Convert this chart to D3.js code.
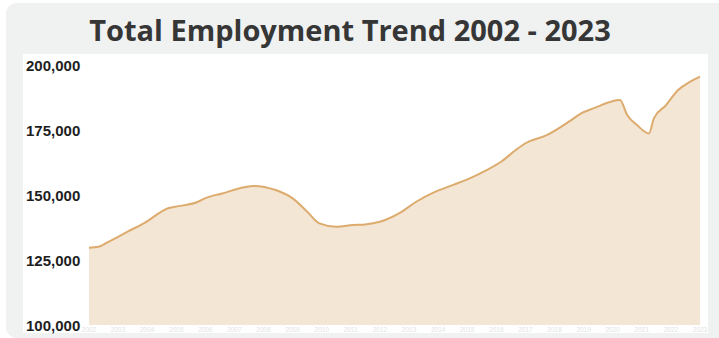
<!DOCTYPE html>
<html>
<head>
<meta charset="utf-8">
<script src="https://cdn.jsdelivr.net/npm/d3@7"></script>
<style>
  html, body { margin: 0; padding: 0; background: #fff; }
  svg { display: block; }
</style>
</head>
<body>
<svg id="chart" width="719" height="338"></svg>
<script>
// Total employment, read at irregular month points
const months = [
  "2002-01","2002-05","2002-09","2003-05","2003-12","2004-10","2004-12","2005-10",
  "2006-01","2006-08","2007-05","2007-09","2008-06","2009-01","2009-07","2009-12",
  "2010-07","2011-02","2011-07","2012-01","2012-09","2013-04","2013-11","2014-07",
  "2015-02","2015-09","2016-03","2016-09","2017-01","2017-10","2018-07","2018-12",
  "2019-05","2020-04","2020-07","2020-11","2021-04","2021-06","2021-11","2022-04",
  "2022-09","2023-01"
];
const employment = [
  129700,130100,132000,135900,139300,145000,145400,147400,
  148800,150600,153000,153500,151900,148700,143600,139100,
  137800,138500,138700,139700,143000,147400,150900,153800,
  156400,159600,162800,167300,169900,173100,178200,181400,
  183300,186500,180800,176900,173700,179500,184600,190400,
  193600,195500
];
const yTicks = [100000, 125000, 150000, 175000, 200000];
const yearLabels = d3.range(2002, 2024);
const title = "Total Employment Trend 2002 - 2023";

const parseMonth = d3.timeParse("%Y-%m");
const data = months.map((m, i) => ({ date: parseMonth(m), value: employment[i] }));

const svg = d3.select("#chart");

// Card background and inner white panel
svg.append("rect")
  .attr("x", 6).attr("y", 3).attr("width", 730).attr("height", 335)
  .attr("rx", 11).attr("fill", "#f0f1f1");
svg.append("rect")
  .attr("x", 23).attr("y", 54).attr("width", 685).attr("height", 279)
  .attr("fill", "#ffffff");

svg.append("text")
  .attr("x", 350).attr("y", 41)
  .attr("text-anchor", "middle")
  .attr("font-family", "'Open Sans', sans-serif")
  .attr("font-weight", 700)
  .attr("font-size", 29)
  .attr("fill", "#363636")
  .text(title);

const x = d3.scaleTime()
  .domain([new Date(2002, 0, 1), new Date(2023, 0, 1)])
  .range([89, 700]);
const y = d3.scaleLinear()
  .domain([100000, 200000])
  .range([325, 65]);

const area = d3.area()
  .x(d => x(d.date))
  .y0(y(100000))
  .y1(d => y(d.value))
  .curve(d3.curveMonotoneX);
const line = d3.line()
  .x(d => x(d.date))
  .y(d => y(d.value))
  .curve(d3.curveMonotoneX);

svg.append("path")
  .datum(data)
  .attr("d", area)
  .attr("fill", "#f4e6d5");

svg.append("path")
  .datum(data)
  .attr("d", line)
  .attr("fill", "none")
  .attr("stroke", "#dcab6d")
  .attr("stroke-width", 2)
  .attr("stroke-linejoin", "round");

// Y axis labels
const yAxis = d3.axisLeft(y).tickValues(yTicks).tickFormat(d3.format(",")).tickSize(0);
const yg = svg.append("g").attr("transform", "translate(26,0)").call(yAxis);
yg.select(".domain").remove();
yg.selectAll("text")
  .attr("x", 0)
  .attr("text-anchor", "start")
  .attr("dy", "0.36em")
  .attr("font-family", "'Liberation Sans', Arial, sans-serif")
  .attr("font-weight", 700)
  .attr("font-size", 15)
  .attr("fill", "#1e1e1e");

// Faint year labels in the strip under the area
svg.append("g")
  .selectAll("text")
  .data(yearLabels)
  .join("text")
  .attr("x", d => x(new Date(d, 0, 1)))
  .attr("y", 332)
  .attr("text-anchor", "middle")
  .attr("font-family", "'Liberation Sans', Arial, sans-serif")
  .attr("font-size", 6.5)
  .attr("fill", "#e3e3e3")
  .text(d => d);
</script>
</body>
</html>
